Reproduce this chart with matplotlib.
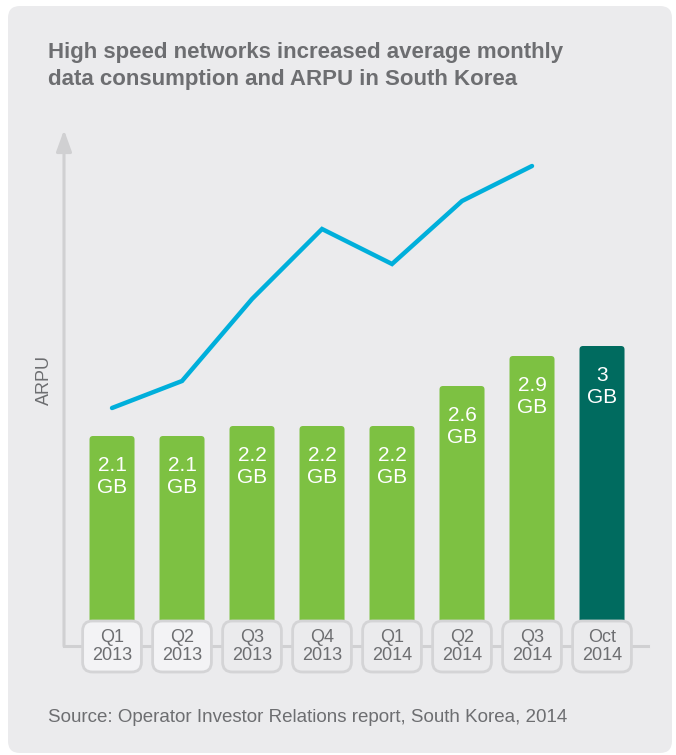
import matplotlib
matplotlib.use("Agg")
import matplotlib.pyplot as plt
from matplotlib.patches import FancyBboxPatch
import numpy as np

# data
quarters = ["Q1\n2013", "Q2\n2013", "Q3\n2013", "Q4\n2013",
            "Q1\n2014", "Q2\n2014", "Q3\n2014", "Oct\n2014"]
data_gb = [2.1, 2.1, 2.2, 2.2, 2.2, 2.6, 2.9, 3.0]
gb_labels = ["2.1", "2.1", "2.2", "2.2", "2.2", "2.6", "2.9", "3"]
# ARPU has no scale in the source; relative index in the same units as the bars
arpu = [2.38, 2.65, 3.47, 4.17, 3.82, 4.45, 4.80]

GREEN = "#7dc142"
TEAL = "#006b5f"
BLUE = "#00afdb"
PANEL = "#ebebed"
GREY_TXT = "#6d6e71"
AXIS_GREY = "#d0d0d2"

plt.rcParams["font.family"] = ["Liberation Sans", "DejaVu Sans"]

fig = plt.figure(figsize=(6.76, 7.55), dpi=100, facecolor="white")

# background panel + free text, in pixel coordinates
bg = fig.add_axes([0, 0, 1, 1], zorder=0)
bg.set_xlim(0, 676)
bg.set_ylim(755, 0)
bg.axis("off")
bg.add_patch(FancyBboxPatch((8, 6), 664, 747, boxstyle="round,pad=0,rounding_size=12",
                            facecolor=PANEL, edgecolor="none"))
bg.text(48, 66, "High speed networks increased average monthly\ndata consumption and ARPU in South Korea",
        fontsize=16, fontweight="bold", color=GREY_TXT, va="center", ha="left", linespacing=1.36)
bg.text(44, 380, "ARPU", rotation=90, fontsize=13, color=GREY_TXT, ha="center", va="center")
bg.text(48, 717, "Source: Operator Investor Relations report, South Korea, 2014",
        fontsize=13.5, color=GREY_TXT, ha="left", va="center")

# main chart: baseline at y=646 px, 100 px per GB
ax = fig.add_axes([64 / 676, 109 / 755, 584 / 676, 510 / 755], zorder=1)
ax.set_facecolor("none")
x = np.arange(len(quarters))
x_left, x_right = -0.686, 7.657
ax.set_xlim(x_left, x_right)
ax.set_ylim(0, 5.1)

colors = [GREEN] * (len(x) - 1) + [TEAL]
bars = ax.bar(x, data_gb, width=0.643, color=colors, zorder=2)
# swap the plain rectangles for slightly rounded ones
for rect, c in zip(bars.patches, colors):
    rect.set_visible(False)
    ax.add_patch(FancyBboxPatch(rect.get_xy(), rect.get_width(), rect.get_height(),
                                boxstyle="round,pad=0,rounding_size=0.05",
                                mutation_aspect=0.7, facecolor=c, edgecolor="none", zorder=2))
for xi, v, lab in zip(x, data_gb, gb_labels):
    ax.text(xi, v - 0.2, lab + "\nGB", color="white", fontsize=15,
            ha="center", va="top", linespacing=1.2, zorder=4)

ax.plot(x[:len(arpu)], arpu, color=BLUE, lw=3.2, solid_capstyle="round",
        solid_joinstyle="miter", zorder=3)

for s in ax.spines.values():
    s.set_visible(False)
ax.set_xticks([])
ax.set_yticks([])

# axis lines
ax.plot([x_left, x_right], [0, 0], color=AXIS_GREY, lw=2.2, clip_on=False, zorder=1)
ax.annotate("", xy=(x_left, 5.16), xytext=(x_left, 0), xycoords="data",
            arrowprops=dict(arrowstyle="-|>,head_length=1.3,head_width=0.47",
                            color=AXIS_GREY, lw=2.2, shrinkA=0, shrinkB=0),
            annotation_clip=False, zorder=1)

# category label boxes
bw, y0, y1 = 0.84, -0.26, 0.25
for i, (xi, q) in enumerate(zip(x, quarters)):
    face = "#f3f3f5" if i < 2 else PANEL
    ax.add_patch(FancyBboxPatch((xi - bw / 2, y0), bw, y1 - y0,
                                boxstyle="round,pad=0,rounding_size=0.14",
                                mutation_aspect=0.7, facecolor=face,
                                edgecolor="#d4d4d6", lw=2, clip_on=False, zorder=5))
    ax.text(xi, (y0 + y1) / 2, q, ha="center", va="center", fontsize=13,
            color=GREY_TXT, linespacing=1.06, zorder=6)

fig.savefig("out.png", dpi=100, facecolor="white")
